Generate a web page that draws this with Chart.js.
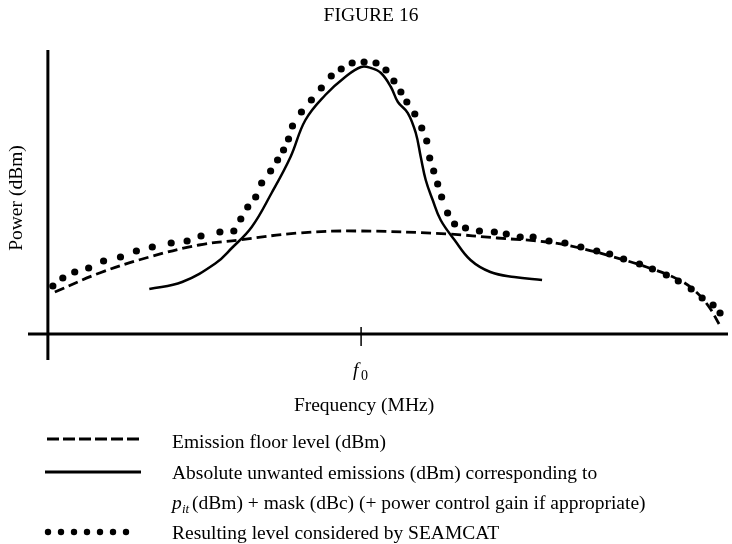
<!DOCTYPE html>
<html>
<head>
<meta charset="utf-8">
<script src="https://cdn.jsdelivr.net/npm/chart.js@4"></script>
<style>
  html, body { margin: 0; padding: 0; background: #fff; }
</style>
</head>
<body>
<canvas id="myChart" width="732" height="544"></canvas>
<script>
// frequency offset from f0 (arbitrary units), power (arbitrary dB units above axis)
const floorX = [-308, -263, -213, -163, -123, -63, -3, 87, 137, 187, 220, 254, 287, 320, 337, 350, 360];
const floorY = [42, 61, 77, 89, 94, 101, 103, 100, 96, 92, 86, 77, 67, 54, 42, 27, 10];

const maskX = [-213, -180, -146, -130, -110, -90, -71, -56, -36, -16, 0, 10, 20, 30, 37, 47, 55, 60, 65, 72, 80, 94, 110, 130, 154, 182];
const maskY = [45, 52, 71, 86, 107, 141, 177, 214, 239, 257, 267, 266, 261, 247, 232, 221, 201, 177, 154, 134, 114, 94, 74, 62, 57, 54];

const seamX = [-310, -300, -288, -274, -259, -242, -226, -210, -191, -175, -161, -142, -128, -121, -114, -106, -100, -91, -84, -78, -73, -69, -60, -50, -40, -30, -20, -9, 3, 15, 25, 33, 40, 46, 54, 61, 66, 69, 73, 77, 81, 87, 94, 105, 119, 134, 146, 160, 173, 189, 205, 221, 237, 250, 264, 280, 293, 307, 319, 332, 343, 354, 361];
const seamY = [48, 56, 62, 66, 73, 77, 83, 87, 91, 93, 98, 102, 103, 115, 127, 137, 151, 163, 174, 184, 195, 208, 222, 234, 246, 258, 265, 271, 272, 271, 264, 253, 242, 232, 220, 206, 193, 176, 163, 150, 137, 121, 110, 106, 103, 102, 100, 97, 97, 93, 91, 87, 83, 80, 75, 70, 65, 59, 53, 45, 36, 29, 21];

const yAxisAt = -315;
const tickValues = [0];

const legendLabels = [
  ['Emission floor level (dBm)'],
  ['Absolute unwanted emissions (dBm) corresponding to', 'p_it'],
  ['Resulting level considered by SEAMCAT']
];

const serif = "'Liberation Serif', 'Times New Roman', serif";
const fs = '19.5px ';

function pts(xs, ys) {
  return xs.map((x, i) => ({ x: x, y: ys[i] }));
}

const drawFigure = {
  id: 'drawFigure',
  beforeDatasetsDraw(chart) {
    const c = chart.ctx;
    const xs = chart.scales.x, ys = chart.scales.y;
    const ax = xs.getPixelForValue(yAxisAt), ay = ys.getPixelForValue(0);
    c.save();
    c.strokeStyle = '#000';
    c.lineWidth = 3;
    c.beginPath(); c.moveTo(xs.left, ay); c.lineTo(xs.right, ay); c.stroke();
    c.beginPath(); c.moveTo(ax, ys.top); c.lineTo(ax, ys.bottom); c.stroke();
    c.lineWidth = 1.5;
    tickValues.forEach(v => {
      const tx = xs.getPixelForValue(v);
      c.beginPath(); c.moveTo(tx, ay - 7); c.lineTo(tx, ay + 12); c.stroke();
    });
    c.restore();
  },
  afterDraw(chart) {
    const c = chart.ctx;
    const xs = chart.scales.x;
    c.save();
    c.fillStyle = '#000';
    c.textBaseline = 'alphabetic';

    // title
    c.font = fs + serif;
    c.textAlign = 'center';
    c.fillText('FIGURE 16', 371, 21);

    // f0 label
    const fx = xs.getPixelForValue(tickValues[0]);
    c.textAlign = 'left';
    c.font = 'italic ' + fs + serif;
    c.fillText('f', fx - 8, 376);
    c.font = '14px ' + serif;
    c.fillText('0', fx, 380);

    // x title
    c.font = fs + serif;
    c.textAlign = 'center';
    c.fillText('Frequency (MHz)', 364, 411);

    // y title
    c.save();
    c.translate(22, 198);
    c.rotate(-Math.PI / 2);
    c.fillText('Power (dBm)', 0, 0);
    c.restore();

    // legend
    c.textAlign = 'left';
    c.strokeStyle = '#000';
    c.lineWidth = 3;
    c.setLineDash([12, 4]);
    c.beginPath(); c.moveTo(47, 439); c.lineTo(139, 439); c.stroke();
    c.setLineDash([]);
    c.beginPath(); c.moveTo(45, 472); c.lineTo(141, 472); c.stroke();
    for (let i = 0; i < 7; i++) {
      c.beginPath(); c.arc(48 + i * 13, 532, 3.2, 0, Math.PI * 2); c.fill();
    }

    c.font = fs + serif;
    c.fillText(legendLabels[0][0], 172, 448);
    c.fillText(legendLabels[1][0], 172, 479);
    c.font = 'italic ' + fs + serif;
    c.fillText('p', 172, 509);
    c.font = 'italic 13px ' + serif;
    c.fillText('it', 182, 513);
    c.font = fs + serif;
    c.fillText('(dBm) + mask (dBc) (+ power control gain if appropriate)', 192, 509);
    c.fillText(legendLabels[2][0], 172, 539);
    c.restore();
  }
};

new Chart(document.getElementById('myChart'), {
  type: 'line',
  data: {
    datasets: [{
      label: 'Emission floor level (dBm)',
      data: pts(floorX, floorY),
      borderColor: '#000',
      borderWidth: 2.8,
      borderDash: [10, 5],
      pointRadius: 0,
      tension: 0.4
    }, {
      label: 'Absolute unwanted emissions (dBm)',
      data: pts(maskX, maskY),
      borderColor: '#000',
      borderWidth: 2.5,
      pointRadius: 0,
      tension: 0.4
    }, {
      label: 'Resulting level considered by SEAMCAT',
      data: pts(seamX, seamY),
      showLine: false,
      pointRadius: 3.6,
      pointBackgroundColor: '#000',
      pointBorderWidth: 0
    }]
  },
  options: {
    responsive: false,
    animation: false,
    layout: { padding: { left: 28, right: 0, top: 50, bottom: 184 } },
    plugins: {
      legend: { display: false },
      title: { display: false },
      tooltip: { enabled: false }
    },
    scales: {
      x: { type: 'linear', display: false, min: -335, max: 369 },
      y: { type: 'linear', display: false, min: -26, max: 284 }
    }
  },
  plugins: [drawFigure]
});
</script>
</body>
</html>
